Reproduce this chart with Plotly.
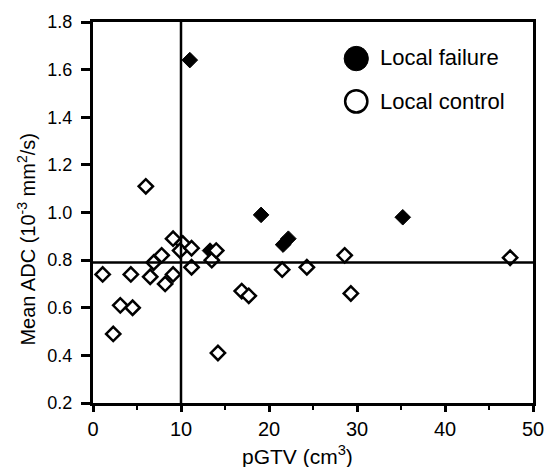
import plotly.graph_objects as go

# Local failure (filled)
fail_x = [11.0, 19.1, 21.6, 22.2, 35.2, 13.3]
fail_y = [1.64, 0.99, 0.865, 0.89, 0.98, 0.84]

# Local control (open)
ctrl_x = [6.0, 1.1, 4.3, 6.5, 8.2, 9.1, 3.1, 4.5, 2.3, 14.2, 16.9, 17.7,
          6.9, 7.8, 9.1, 10.2, 9.9, 11.2, 11.2, 13.5, 14.0,
          21.5, 24.3, 28.6, 29.3, 47.4]
ctrl_y = [1.11, 0.74, 0.74, 0.73, 0.70, 0.74, 0.61, 0.60, 0.49, 0.41, 0.67, 0.65,
          0.79, 0.82, 0.89, 0.87, 0.84, 0.85, 0.77, 0.80, 0.84,
          0.76, 0.77, 0.82, 0.66, 0.81]

cut_x = 10
cut_y = 0.79

x_ticks = [0, 10, 20, 30, 40, 50]
y_ticks = [0.2, 0.4, 0.6, 0.8, 1.0, 1.2, 1.4, 1.6, 1.8]

FONT = "Liberation Sans, Arial, sans-serif"

# plot-area geometry in pixels (used only to place legend/title decorations)
L, R, T, B = 93, 538, 20, 403
PW, PH = R - L, B - T


def px(xp):
    return (xp - L) / PW


def py(yp):
    return (B - yp) / PH


fig = go.Figure()
fig.add_trace(go.Scatter(x=fail_x, y=fail_y, mode="markers", name="Local failure",
                         showlegend=False,
                         marker=dict(symbol="diamond", size=12, color="black",
                                     line=dict(color="black", width=1))))
fig.add_trace(go.Scatter(x=ctrl_x, y=ctrl_y, mode="markers", name="Local control",
                         showlegend=False,
                         marker=dict(symbol="diamond", size=11, color="white",
                                     line=dict(color="black", width=2.5))))

# cut-off lines
fig.add_shape(type="line", xref="x", yref="paper", x0=cut_x, x1=cut_x, y0=0, y1=1,
              line=dict(color="black", width=2.5))
fig.add_shape(type="line", xref="paper", yref="y", x0=0, x1=1, y0=cut_y, y1=cut_y,
              line=dict(color="black", width=2.5))

# legend drawn as shapes + text
fig.add_shape(type="circle", xref="paper", yref="paper",
              x0=px(347), x1=px(371.5), y0=py(69), y1=py(44.5),
              fillcolor="black", line=dict(color="black", width=1))
fig.add_shape(type="circle", xref="paper", yref="paper",
              x0=px(348), x1=px(370.5), y0=py(111), y1=py(88.5),
              fillcolor="white", line=dict(color="black", width=2.5))
fig.add_annotation(xref="paper", yref="paper", x=px(381), y=py(56),
                   text="Local failure", showarrow=False, xanchor="left", yanchor="middle",
                   font=dict(family=FONT, size=22, color="black"))
fig.add_annotation(xref="paper", yref="paper", x=px(381), y=py(100),
                   text="Local control", showarrow=False, xanchor="left", yanchor="middle",
                   font=dict(family=FONT, size=22, color="black"))

# axis titles
fig.add_annotation(xref="paper", yref="paper", x=px(26), y=py(238),
                   text="Mean ADC (10<sup>-3</sup> mm<sup>2</sup>/s)", showarrow=False,
                   textangle=-90, xanchor="center", yanchor="middle",
                   font=dict(family=FONT, size=20, color="black"))
fig.add_annotation(xref="paper", yref="paper", x=px(300), y=py(455),
                   text="pGTV (cm<sup>3</sup>)", showarrow=False,
                   xanchor="center", yanchor="middle",
                   font=dict(family=FONT, size=21, color="black"))

axis_common = dict(showgrid=False, zeroline=False, showline=True, linecolor="black",
                   linewidth=3, mirror=True, ticks="outside", tickcolor="black",
                   tickwidth=2.5)

fig.update_layout(
    width=556, height=467,
    margin=dict(l=L, r=556 - R, t=T, b=467 - B),
    paper_bgcolor="white", plot_bgcolor="white",
    showlegend=False,
    xaxis=dict(range=[0, 50], tickvals=x_ticks, ticklen=6,
               tickfont=dict(family=FONT, size=20, color="black"),
               minor=dict(dtick=5, tick0=0, ticks="outside", ticklen=4, tickwidth=2, tickcolor="black"),
               **axis_common),
    yaxis=dict(range=[0.2, 1.8], tickvals=y_ticks, tickformat=".1f", ticklen=9,
               ticklabelstandoff=5,
               tickfont=dict(family=FONT, size=18, color="black"),
               **axis_common),
)

fig.write_html("out.html")
